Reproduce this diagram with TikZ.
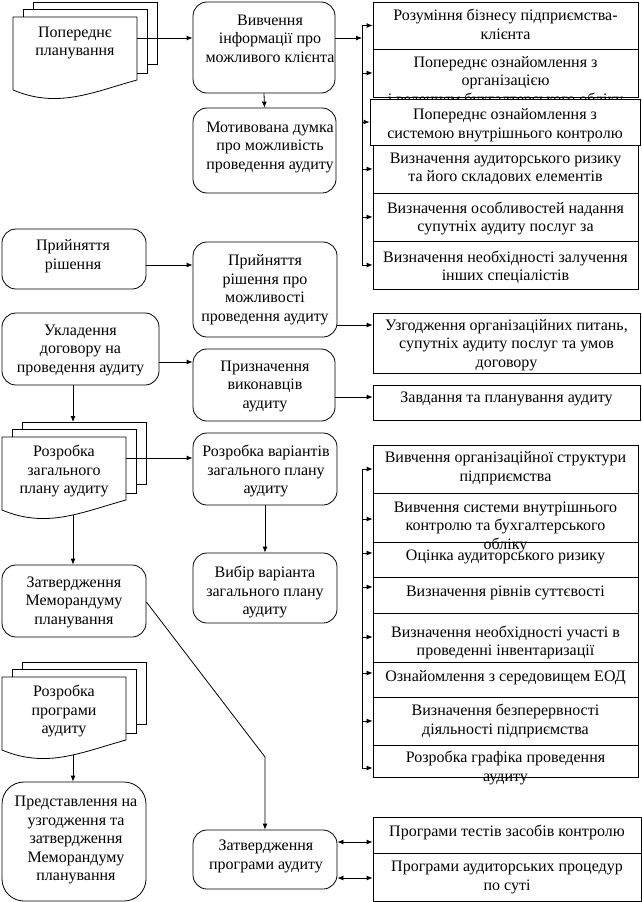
\documentclass[tikz,border=0pt]{standalone}
\usepackage{fontspec}
\setmainfont{Liberation Serif}
\usetikzlibrary{arrows.meta}
\tikzset{
  lw/.style={line width=0.8pt},
  rbox/.style={draw, rounded corners=14pt, line width=0.8pt, inner sep=0pt},
  sbox/.style={draw, line width=0.8pt, inner sep=0pt},
  ghost/.style={inner sep=0pt},
  txt/.style={align=center, font=\fontsize{16}{18.5}\selectfont, inner sep=0pt},
  arr/.style={line width=0.8pt, -{Latex[length=6pt,width=5pt]}},
  darr/.style={line width=0.8pt, {Latex[length=6pt,width=5pt]}-{Latex[length=6pt,width=5pt]}},
}
\newcommand\mdoc[2]{%
  \draw[lw] (#1+20,#2-8) -- (#1+20,#2-15) -- (#1+144,#2-15) -- (#1+144,#2+47) -- (#1+134,#2+47);
  \draw[lw] (#1+10,#2) -- (#1+10,#2-8) -- (#1+134,#2-8) -- (#1+134,#2+56) -- (#1+124,#2+56);
  \draw[lw] (#1,#2) -- (#1+124,#2) -- (#1+124,#2+63) .. controls (#1+80,#2+75) and (#1+45,#2+92) .. (#1,#2+73) -- cycle;
}
\begin{document}
\begin{tikzpicture}[x=1pt,y=-1pt]
\useasboundingbox (0,0) rectangle (642,902);

% multi-document shapes
\mdoc{13}{17}
\node[ghost, minimum width=124pt, minimum height=63pt] (d1) at (75,48.5) {};
\node[txt] (d1t) at (75,43) {Попереднє\\планування};
\mdoc{2}{437}
\node[ghost, minimum width=124pt, minimum height=63pt] (d2) at (64,468.5) {};
\node[txt] (d2t) at (64,471) {Розробка\\загального\\плану аудиту};
\mdoc{2}{677}
\node[ghost, minimum width=124pt, minimum height=63pt] (d3) at (64,708.5) {};
\node[txt] (d3t) at (64,711) {Розробка\\програми\\аудиту};
\coordinate (d2top) at (73,422);
\coordinate (d2bot) at (73,515);
\coordinate (d3bot) at (73,755);

% rounded boxes
\node[rbox, minimum width=142pt, minimum height=91pt] (viv) at (264,47.5) {};
\node[txt] (vivt) at (270,38.5) {Вивчення\\інформації про\\можливого клієнта};
\node[rbox, minimum width=143pt, minimum height=85pt] (mot) at (264.5,150.5) {};
\node[txt] (mott) at (270,147) {Мотивована думка\\про можливість\\проведення аудиту};
\node[rbox, minimum width=144pt, minimum height=60pt] (pr1) at (74,259) {};
\node[txt] (pr1t) at (73,256) {Прийняття\\рішення};
\node[rbox, minimum width=144pt, minimum height=95pt] (pr2) at (265,289.5) {};
\node[txt] (pr2t) at (265,289.5) {Прийняття\\рішення про\\можливості\\проведення аудиту};
\node[rbox, minimum width=157pt, minimum height=72pt] (uk) at (80.5,349) {};
\node[txt] (ukt) at (80.5,350) {Укладення\\договору на\\проведення аудиту};
\node[rbox, minimum width=142pt, minimum height=72pt] (pn) at (264,385) {};
\node[txt] (pnt) at (265,386) {Призначення\\виконавців\\аудиту};
\node[rbox, minimum width=144pt, minimum height=72pt] (rv) at (265,469) {};
\node[txt] (rvt) at (266,471) {Розробка варіантів\\загального плану\\аудиту};
\node[rbox, minimum width=144pt, minimum height=70pt] (vb) at (265,588) {};
\node[txt] (vbt) at (265,592) {Вибір варіанта\\загального плану\\аудиту};
\node[rbox, minimum width=144pt, minimum height=72pt] (zm) at (74,601) {};
\node[txt] (zmt) at (74,602) {Затвердження\\Меморандуму\\планування};
\node[rbox, rounded corners=22pt, minimum width=144pt, minimum height=119pt] (pz) at (74,841.5) {};
\node[txt] (pzt) at (76,840) {Представлення на\\узгодження та\\затвердження\\Меморандуму\\планування};
\node[rbox, minimum width=144pt, minimum height=59pt] (zp) at (265,859.5) {};
\node[txt] (zpt) at (266,856.5) {Затвердження\\програми аудиту};

% right column, top group
\node[sbox, minimum width=265pt, minimum height=47pt] (r1) at (505.5,25.5) {};
\node[txt] (r1t) at (505.5,24.5) {Розуміння бізнесу підприємства-\\клієнта};
\node[sbox, minimum width=265pt, minimum height=48pt] (r2) at (505.5,73) {};
\node[txt] (r2t) at (505.5,82) {Попереднє ознайомлення з\\організацією\\і веденням бухгалтерського обліку};
\node[sbox, fill=white, minimum width=270pt, minimum height=46pt] (r3) at (505,122) {};
\node[txt] (r3t) at (505,125) {Попереднє ознайомлення з\\системою внутрішнього контролю};
\node[sbox, minimum width=265pt, minimum height=48pt] (r4) at (505.5,169) {};
\node[txt] (r4t) at (505.5,169) {Визначення аудиторського ризику\\та його складових елементів};
\node[sbox, minimum width=265pt, minimum height=48pt] (r5) at (505.5,217) {};
\node[txt] (r5t) at (505.5,218.5) {Визначення особливостей надання\\супутніх аудиту послуг за};
\node[sbox, minimum width=265pt, minimum height=48pt] (r6) at (505.5,265) {};
\node[txt] (r6t) at (505.5,267.5) {Визначення необхідності залучення\\інших спеціалістів};

% middle right
\node[sbox, minimum width=267pt, minimum height=60pt] (uz) at (506.5,343) {};
\node[txt] (uzt) at (506.5,345) {Узгодження організаційних питань,\\супутніх аудиту послуг та умов\\договору};
\node[sbox, minimum width=267pt, minimum height=35pt] (zv) at (506.5,402.5) {};
\node[txt] (zvt) at (506.5,399) {Завдання та планування аудиту};

% right column, lower group
\node[sbox, minimum width=265pt, minimum height=48pt] (b1) at (505.5,469) {};
\node[txt] (b1t) at (505.5,468) {Вивчення організаційної структури\\підприємства};
\node[sbox, minimum width=265pt, minimum height=49pt] (b2) at (505.5,517.5) {};
\node[txt] (b2t) at (505.5,527) {Вивчення системи внутрішнього\\контролю та бухгалтерського\\обліку};
\node[sbox, minimum width=265pt, minimum height=35pt] (b3) at (505.5,559.5) {};
\node[txt] (b3t) at (505.5,557) {Оцінка аудиторського ризику};
\node[sbox, minimum width=265pt, minimum height=36pt] (b4) at (505.5,595) {};
\node[txt] (b4t) at (505.5,593) {Визначення рівнів суттєвості};
\node[sbox, minimum width=265pt, minimum height=49pt] (b5) at (505.5,637.5) {};
\node[txt] (b5t) at (505.5,642.5) {Визначення необхідності участі в\\проведенні інвентаризації};
\node[sbox, minimum width=265pt, minimum height=35pt] (b6) at (505.5,679.5) {};
\node[txt] (b6t) at (505.5,678) {Ознайомлення з середовищем ЕОД};
\node[sbox, minimum width=265pt, minimum height=48pt] (b7) at (505.5,721) {};
\node[txt] (b7t) at (505.5,721) {Визначення безперервності\\діяльності підприємства};
\node[sbox, minimum width=265pt, minimum height=32pt] (b8) at (505.5,761) {};
\node[txt] (b8t) at (505.5,768) {Розробка графіка проведення\\аудиту};

% bottom right
\node[sbox, minimum width=268pt, minimum height=36pt] (p1) at (507,835) {};
\node[txt] (p1t) at (507,832) {Програми тестів засобів контролю};
\node[sbox, minimum width=268pt, minimum height=48pt] (p2) at (507,877) {};
\node[txt] (p2t) at (507,877.5) {Програми аудиторських процедур\\по суті};

% brackets
\coordinate (a1) at (362,25);
\coordinate (a2) at (362,265);
\draw[lw] (a1) -- (a2);
\coordinate (c1) at (362,469);
\coordinate (c2) at (362,768);
\draw[lw] (c1) -- (c2);

% connectors
\draw[arr] (d1.east |- 0,38) -- (viv.west |- 0,38);
\draw[arr] (viv.east |- 0,38) -- (a1 |- 0,38);
\draw[arr] (viv.south) -- (mot.north);
\foreach \b in {r1,r2,r3,r4,r5,r6}{\draw[arr] (a1 |- \b.west) -- (\b.west);}
\draw[arr] (pr1.east |- 0,265) -- (pr2.west |- 0,265);
\draw[arr] (pr2.east |- 0,325) -- (uz.west |- 0,325);
\draw[arr] (uk.east |- 0,362) -- (pn.west |- 0,362);
\draw[arr] (pn.east |- 0,397) -- (zv.west |- 0,397);
\draw[arr] (uk.south -| d2top) -- (d2top);
\draw[arr] (d2.east |- 0,458) -- (rv.west |- 0,458);
\draw[arr] (rv.south) -- (vb.north);
\draw[arr] (d2bot) -- (zm.north -| d2bot);
\coordinate (bend) at (265,757);
\draw[arr] (zm.east |- 0,602) -- (bend) -- (zp.north);
\draw[arr] (d3bot) -- (pz.north -| d3bot);
\draw[arr] (c1 |- 0,469) -- (b1.west |- 0,469);
\draw[arr] (c1 |- 0,519) -- (b2.west |- 0,519);
\draw[arr] (c1 |- 0,553) -- (b3.west |- 0,553);
\draw[arr] (c1 |- 0,587) -- (b4.west |- 0,587);
\draw[arr] (c1 |- 0,637) -- (b5.west |- 0,637);
\draw[arr] (c1 |- 0,673) -- (b6.west |- 0,673);
\draw[arr] (c1 |- 0,721) -- (b7.west |- 0,721);
\draw[arr] (c1 |- 0,768) -- (b8.west |- 0,768);
\draw[darr] (zp.east |- 0,842) -- (p1.west |- 0,842);
\draw[darr] (zp.east |- 0,878) -- (p2.west |- 0,878);
\end{tikzpicture}
\end{document}
